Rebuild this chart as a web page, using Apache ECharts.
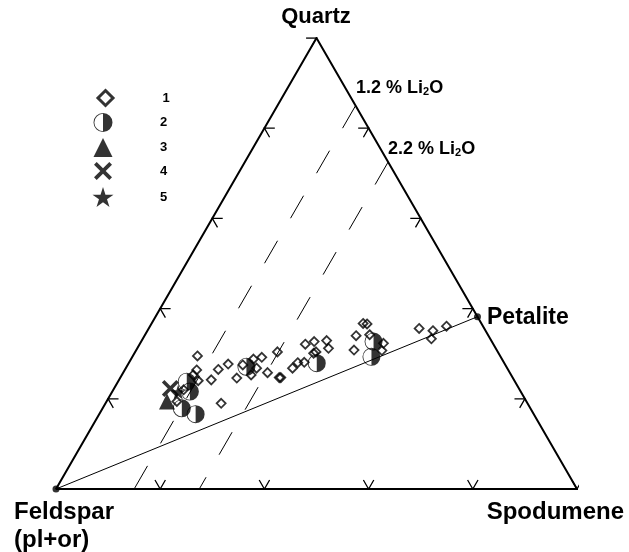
<!DOCTYPE html>
<html>
<head>
<meta charset="utf-8">
<script src="https://cdn.jsdelivr.net/npm/echarts@6/dist/echarts.min.js"></script>
<style>
html, body { margin: 0; padding: 0; background: #fff; }
#chart { width: 629px; height: 552px; }
</style>
</head>
<body>
<div id="chart"></div>
<script>
// compositions, [quartz, feldspar, spodumene] in %
var group1 = [
  [29.5, 58.1, 12.4], [26.4, 59.8, 13.8], [24.0, 60.7, 15.3], [24.2, 58.1, 17.7],
  [26.5, 55.6, 17.9], [27.7, 53.1, 19.2], [24.6, 53.0, 22.4], [19.0, 58.8, 22.2],
  [28.8, 47.7, 23.5], [29.2, 45.9, 24.9], [26.8, 48.1, 25.1], [25.3, 49.9, 24.8],
  [25.8, 46.5, 27.7], [24.7, 44.8, 30.5], [24.7, 44.5, 30.8], [30.4, 42.3, 27.3],
  [26.8, 41.2, 32.0], [28.0, 39.6, 32.4], [28.1, 38.3, 33.6], [32.1, 36.1, 31.8],
  [32.7, 34.1, 33.2], [32.9, 31.6, 35.5], [31.2, 32.1, 36.7], [30.4, 34.9, 34.7],
  [30.1, 35.5, 34.4], [27.5, 50.4, 22.1], [25.3, 61.0, 13.7], [22.0, 64.5, 13.5],
  [19.4, 67.1, 13.5], [36.7, 22.7, 40.6], [36.6, 22.0, 41.4], [34.0, 25.4, 40.6],
  [34.2, 22.7, 43.1], [30.8, 27.4, 41.8], [32.3, 21.0, 46.7], [30.7, 22.1, 47.2],
  [35.6, 12.5, 51.9], [35.1, 10.1, 54.8], [33.3, 11.3, 55.4], [36.1, 7.0, 56.9]
];
var group2 = [
  [27.1, 49.9, 23.0], [27.9, 36.0, 36.1], [23.8, 63.0, 13.2], [21.6, 63.5, 14.9],
  [17.9, 66.9, 15.2], [16.6, 64.9, 18.5], [32.7, 22.7, 44.6], [29.3, 24.8, 45.9]
];
var group3 = [[19.4, 69.0, 11.6]];
var group4 = [[22.3, 66.9, 10.8]];
var group5 = [[21.5, 65.8, 12.7]];

var petalite = [38.2, 0, 61.8];
var feldspar = [0, 100, 0];
var li2oLevels = [1.2, 2.2];   // % Li2O isolines
var spodLi2O = 8.0;            // Li2O in pure spodumene
var tickValues = [20, 40, 60, 80, 100];
var legendNames = ['1', '2', '3', '4', '5'];

var H = Math.sqrt(3) / 2;
// ternary -> cartesian (x 0..100, y 0..86.6)
function xy(p) {
  var t = p[0] + p[1] + p[2];
  return [(p[2] + p[0] / 2) / t * 100, p[0] * H / t * 100];
}

var cF = xy([0, 100, 0]), cS = xy([0, 0, 100]), cQ = xy([100, 0, 0]);

// ticks: two short arms parallel to the other two sides
var L = 2.0;
var edges = [
  { a: cF, b: cS, arms: [60, 120] },
  { a: cS, b: cQ, arms: [180, 240] },
  { a: cQ, b: cF, arms: [0, -60] }
];
var tickLines = [];
edges.forEach(function (e) {
  tickValues.forEach(function (v) {
    var t = v / 100;
    var px = e.a[0] + (e.b[0] - e.a[0]) * t;
    var py = e.a[1] + (e.b[1] - e.a[1]) * t;
    var c = e.arms.map(function (deg) {
      var r = deg * Math.PI / 180;
      return [px + L * Math.cos(r), py + L * Math.sin(r)];
    });
    tickLines.push({ coords: [c[0], [px, py], c[1]] });
  });
});

var isoLines = li2oLevels.map(function (lv) {
  var s = lv / spodLi2O * 100;
  return { coords: [xy([100 - s, 0, s]), xy([0, 100 - s, s])] };
});

var halfCircle = 'path://M10,0A10,10,0,1,1,10,20A10,10,0,1,1,10,0ZM10,0.9A9.1,9.1,0,1,0,10,19.1A9.1,9.1,0,1,0,10,0.9ZM10,0.9A9.1,9.1,0,0,1,10,19.1Z';
var cross = 'path://M3,0L10,7L17,0L20,3L13,10L20,17L17,20L10,13L3,20L0,17L7,10L0,3Z';
var star = 'path://M10,0L12.245,6.91L19.51,6.91L13.633,11.18L15.88,18.09L10,13.82L4.12,18.09L6.367,11.18L0.49,6.91L7.755,6.91Z';

var font = 'Liberation Sans, Arial, sans-serif';

// one legend per row so every key symbol gets its own size
var keyIcons = [null, halfCircle, null, null, star];
var keySizes = [15, 19, 19, 18, 21];
var keyRows = [97, 122, 147, 171, 196];
var legends = legendNames.map(function (n, i) {
  var w = keySizes[i];
  var item = { name: n };
  if (keyIcons[i]) item.icon = keyIcons[i];
  if (i === 0) item.itemStyle = { borderWidth: 3 };
  return {
    orient: 'vertical',
    left: 103 - 5 - w / 2, top: keyRows[i] - 5 - 9,
    itemWidth: w, itemHeight: w,
    selectedMode: false,
    textStyle: { fontFamily: font, fontWeight: 'bold', fontSize: 13, color: '#000', lineHeight: 18, padding: [0, 0, 0, 52 - w / 2] },
    data: [item]
  };
});

var myChart = echarts.init(document.getElementById('chart'));

var option = {
  animation: false,
  grid: { left: 56, top: 38, width: 521, height: 451 },
  xAxis: { type: 'value', min: 0, max: 100, show: false },
  yAxis: { type: 'value', min: 0, max: 100 * H, show: false },
  legend: legends,
  graphic: [
    { type: 'text', x: 316, y: 17, style: { text: 'Quartz', align: 'center', verticalAlign: 'middle', font: 'bold 22px ' + font, fill: '#000' } },
    { type: 'text', x: 356, y: 88, style: { text: '1.2 % Li{s|2}O', verticalAlign: 'middle', font: 'bold 18px ' + font, fill: '#000',
      rich: { s: { fontSize: 11, fontWeight: 'bold', fontFamily: font, padding: [8, 0, 0, 0] } } } },
    { type: 'text', x: 388, y: 149, style: { text: '2.2 % Li{s|2}O', verticalAlign: 'middle', font: 'bold 18px ' + font, fill: '#000',
      rich: { s: { fontSize: 11, fontWeight: 'bold', fontFamily: font, padding: [8, 0, 0, 0] } } } },
    { type: 'text', x: 487, y: 318, style: { text: 'Petalite', verticalAlign: 'middle', font: 'bold 23px ' + font, fill: '#000' } },
    { type: 'text', x: 14, y: 512, style: { text: 'Feldspar', verticalAlign: 'middle', font: 'bold 24px ' + font, fill: '#000' } },
    { type: 'text', x: 14, y: 540, style: { text: '(pl+or)', verticalAlign: 'middle', font: 'bold 24px ' + font, fill: '#000' } },
    { type: 'text', x: 624, y: 512, style: { text: 'Spodumene', align: 'right', verticalAlign: 'middle', font: 'bold 24px ' + font, fill: '#000' } }
  ],
  series: [
    {
      type: 'lines', coordinateSystem: 'cartesian2d', polyline: true, silent: true,
      lineStyle: { color: '#000', width: 1.3, opacity: 1 },
      data: tickLines
    },
    {
      type: 'lines', coordinateSystem: 'cartesian2d', polyline: true, silent: true,
      lineStyle: { color: '#000', width: 2, opacity: 1 },
      data: [{ coords: [cF, cS, cQ, cF] }]
    },
    {
      type: 'lines', coordinateSystem: 'cartesian2d', silent: true,
      lineStyle: { color: '#000', width: 1, opacity: 1 },
      data: [{ coords: [xy(feldspar), xy(petalite)] }]
    },
    {
      type: 'lines', coordinateSystem: 'cartesian2d', silent: true,
      lineStyle: { color: '#000', width: 1, opacity: 1, type: [26, 26] },
      data: isoLines
    },
    {
      name: '1', type: 'scatter', symbol: 'diamond', symbolSize: 9, silent: true,
      itemStyle: { color: 'none', borderColor: '#000', borderWidth: 1.8 },
      data: group1.map(xy)
    },
    {
      name: '2', type: 'scatter', symbol: halfCircle, symbolSize: 18, silent: true,
      itemStyle: { color: '#000' },
      data: group2.map(xy)
    },
    {
      name: '3', type: 'scatter', symbol: 'triangle', symbolSize: 16, silent: true,
      itemStyle: { color: '#000' },
      data: group3.map(xy)
    },
    {
      name: '4', type: 'scatter', symbol: cross, symbolSize: 17, silent: true,
      itemStyle: { color: '#000' },
      data: group4.map(xy)
    },
    {
      name: '5', type: 'scatter', symbol: star, symbolSize: 15, silent: true,
      itemStyle: { color: '#000' },
      data: group5.map(xy)
    },
    {
      type: 'scatter', symbol: 'circle', symbolSize: 7, silent: true,
      itemStyle: { color: '#000' },
      data: [xy(feldspar), xy(petalite)]
    }
  ]
};

myChart.setOption(option);
</script>
</body>
</html>
